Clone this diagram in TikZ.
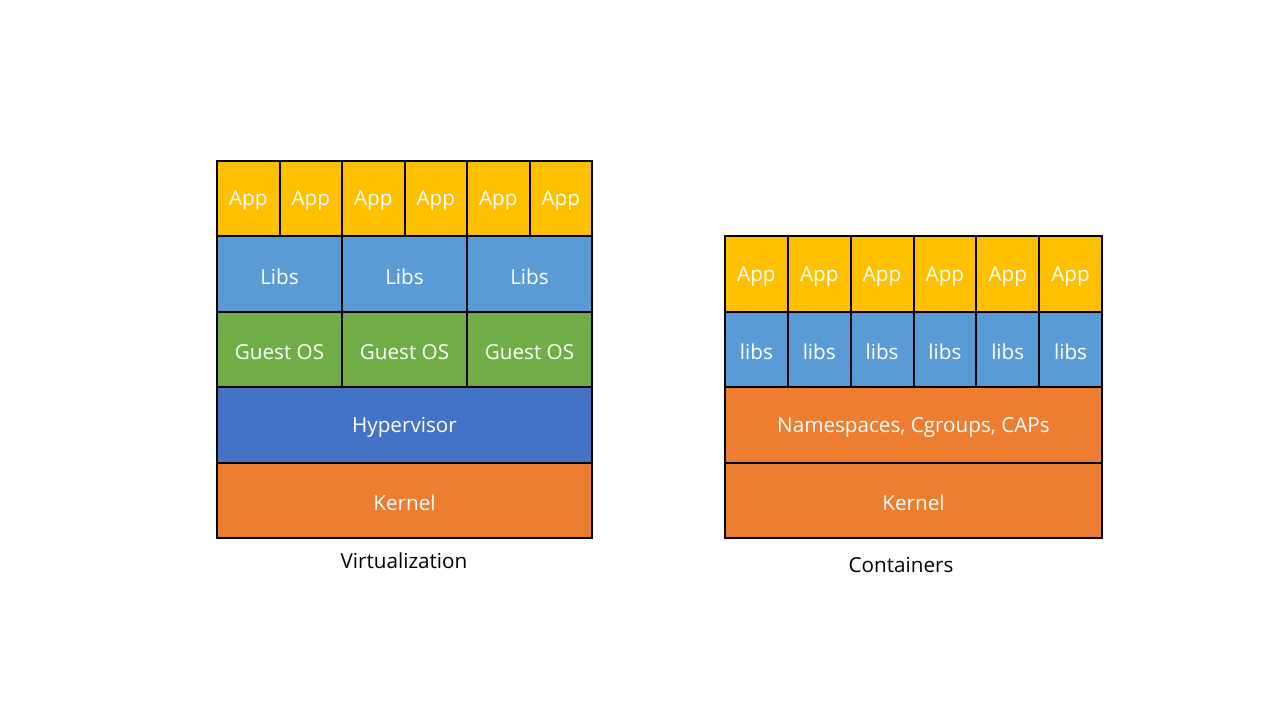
\documentclass[tikz,border=0pt]{standalone}
\usepackage{fontspec}
\setmainfont{Open Sans}
\usepackage{tikz}
\usepackage{xcolor}
\definecolor{appyellow}{RGB}{255,192,0}
\definecolor{libblue}{RGB}{91,155,213}
\definecolor{osgreen}{RGB}{112,173,71}
\definecolor{hypblue}{RGB}{68,114,196}
\definecolor{kernorange}{RGB}{237,125,49}
\tikzset{
  cell/.style={draw=black, line width=1.5pt},
  celltext/.style={text=white, font=\fontsize{15.5}{18}\selectfont, inner sep=0.75pt},
  caption/.style={text=black, font=\fontsize{15.5}{18}\selectfont, inner sep=0.75pt}
}

\begin{document}
\begin{tikzpicture}[x=0.75pt,y=0.75pt,yscale=-1,xscale=1]
	%set diagram left start at 0, and has height of 720
	\path[use as bounding box] (0,0) rectangle (1280,720);

	%Shape: Virtualization stack
	\foreach \i in {0,...,5} {
		\draw[cell, fill=appyellow] ({217+62.5*\i},161) rectangle ({217+62.5*(\i+1)},236.4);
		\node[celltext] (vapp\i) at ({217+62.5*(\i+0.5)},201) {App};
	}
	\foreach \i in {0,1,2} {
		\draw[cell, fill=libblue] ({217+125*\i},236.4) rectangle ({217+125*(\i+1)},311.8);
		\node[celltext] (vlibs\i) at ({217+125*(\i+0.5)},276.4) {Libs};
		\draw[cell, fill=osgreen] ({217+125*\i},311.8) rectangle ({217+125*(\i+1)},387.2);
		\node[celltext] (vos\i) at ({217+125*(\i+0.5)},351.8) {Guest OS};
	}
	\draw[cell, fill=hypblue] (217,387.2) rectangle (592,462.6);
	\node[celltext] (hyp) at (404.5,427.2) {Hypervisor};
	\draw[cell, fill=kernorange] (217,462.6) rectangle (592,538);
	\node[celltext] (vkernel) at (404.5,502.6) {Kernel};

	%Shape: Containers stack
	\foreach \i in {0,...,5} {
		\draw[cell, fill=appyellow] ({725+62.83*\i},236.4) rectangle ({725+62.83*(\i+1)},311.8);
		\node[celltext] (capp\i) at ({725+62.83*(\i+0.5)},276.4) {App};
		\draw[cell, fill=libblue] ({725+62.83*\i},311.8) rectangle ({725+62.83*(\i+1)},387.2);
		\node[celltext] (clibs\i) at ({725+62.83*(\i+0.5)},351.8) {libs};
	}
	\draw[cell, fill=kernorange] (725,387.2) rectangle (1102,462.6);
	\node[celltext] (ns) at (913.5,427.2) {Namespaces, Cgroups, CAPs};
	\draw[cell, fill=kernorange] (725,462.6) rectangle (1102,538);
	\node[celltext] (ckernel) at (913.5,502.6) {Kernel};

	% Text Node
	\node[caption] (virt) at (404,561) {Virtualization};
	% Text Node
	\node[caption] (cont) at (901,565) {Containers};
\end{tikzpicture}
\end{document}
